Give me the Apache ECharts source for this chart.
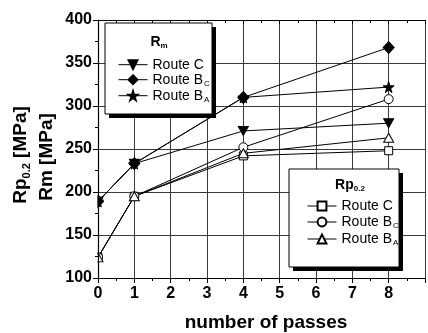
<!DOCTYPE html>
<html><head><meta charset="utf-8">
<script src="https://cdn.jsdelivr.net/npm/echarts@6/dist/echarts.min.js"></script>
<style>html,body{margin:0;padding:0;background:#fff}#c{width:428px;height:333px}</style>
</head><body><div id="c"></div>
<script>
const passes = [0, 1, 4, 8];
const rmRouteC  = [189, 233, 271, 280];
const rmRouteBC = [189, 233, 310, 368];
const rmRouteBA = [189, 233, 310, 322];
const rpRouteC  = [124, 195, 242, 248];
const rpRouteBC = [124, 195, 252, 308];
const rpRouteBA = [124, 195, 245, 263];
const xTickLabels = ['0','1','2','3','4','5','6','7','8'];
const yMin = 100, yMax = 400, yStep = 50;

const FONT = '"Liberation Sans", Arial, sans-serif';
const STAR = 'path://M50,0 L61,35 L98,35 L68,57 L79,91 L50,70 L21,91 L32,57 L2,35 L39,35 Z';

function pts(vals){ return passes.map((x,i)=>[x, vals[i]]); }
function ser(name, vals, symbol, size, filled, rot){
  return {
    name, type:'line', data: pts(vals), symbol, symbolSize:size, symbolRotate: rot||0,
    zlevel:0, z:5, showSymbol:true, animation:false,
    lineStyle:{color:'#000', width:1},
    itemStyle:{color: filled ? '#000' : '#fff', borderColor:'#000', borderWidth:1}
  };
}
const labelMap = {
  'Rm C':'{t|Route C}', 'Rm BC':'{t|Route B}{s|C}', 'Rm BA':'{t|Route B}{s|A}',
  'Rp C':'{t|Route C}', 'Rp BC':'{t|Route B}{s|C}', 'Rp BA':'{t|Route B}{s|A}'
};
const legRich = {
  t:{fontSize:14, fontFamily:FONT, color:'#000', lineHeight:16},
  s:{fontSize:8, fontFamily:FONT, color:'#000', lineHeight:4, verticalAlign:'bottom', padding:[0,0,0,1]}
};
function legend(names, left, top, gap){
  return {
    data:names, orient:'vertical', left, top, itemWidth:29, itemHeight:11, itemGap:gap,
    selectedMode:false, zlevel:1, z:30, formatter:n=>labelMap[n],
    lineStyle:{width:1, color:'#000'},
    textStyle:{color:'#000', fontFamily:FONT, fontSize:14, rich:legRich}
  };
}
const chart = echarts.init(document.getElementById('c'));
const axisLine = {show:true, lineStyle:{color:'#000', width:1.2}};
chart.setOption({
  animation:false,
  grid:{left:98, top:20, right:-26.625, bottom:55},
  xAxis:[
    {type:'value', min:0, max:9, interval:1, position:'bottom', zlevel:1, z:10,
     axisLine, axisTick:{show:true, length:5, lineStyle:{color:'#000'}},
     minorTick:{show:true, splitNumber:2, length:3, lineStyle:{color:'#000'}},
     axisLabel:{margin:8, color:'#000', fontFamily:FONT, fontWeight:'bold', fontSize:16,
       formatter:v=> (Number.isInteger(v) && v<=8) ? xTickLabels[v] : ''},
     splitLine:{show:false}},
    {type:'value', min:0, max:9, interval:1, position:'top', zlevel:1, z:10,
     axisLine, axisTick:{show:true, inside:true, length:4, lineStyle:{color:'#000'}},
     minorTick:{show:true, splitNumber:2, length:3, lineStyle:{color:'#000'}},
     axisLabel:{show:false}, splitLine:{show:false}},
    {type:'value', min:0, max:9, interval:1, position:'bottom', zlevel:0, z:0,
     axisLine:{show:false}, axisTick:{show:false}, axisLabel:{show:false},
     splitLine:{show:true, lineStyle:{color:'#3a3a3a', width:1}}}
  ],
  yAxis:[
    {type:'value', min:yMin, max:yMax, interval:yStep, position:'left', zlevel:1, z:10,
     axisLine, axisTick:{show:true, length:5, lineStyle:{color:'#000'}},
     minorTick:{show:true, splitNumber:2, length:3, lineStyle:{color:'#000'}},
     axisLabel:{margin:6, color:'#000', fontFamily:FONT, fontWeight:'bold', fontSize:16},
     splitLine:{show:false}},
    {type:'value', min:yMin, max:yMax, interval:yStep, position:'left', zlevel:0, z:0,
     axisLine:{show:false}, axisTick:{show:false}, axisLabel:{show:false},
     splitLine:{show:true, lineStyle:{color:'#3a3a3a', width:1}}}
  ],
  legend:[
    legend(['Rm C','Rm BC','Rm BA'], 113, 52.7, 1),
    legend(['Rp C','Rp BC','Rp BA'], 302, 194, 2)
  ],
  series:[
    ser('Rm C', rmRouteC, 'triangle', [10,9], true, 180),
    ser('Rm BC', rmRouteBC, 'diamond', [11,12], true),
    ser('Rm BA', rmRouteBA, STAR, 11, true),
    ser('Rp C', rpRouteC, 'rect', 8, false),
    ser('Rp BC', rpRouteBC, 'circle', 9, false),
    ser('Rp BA', rpRouteBA, 'triangle', [10,9], false)
  ],
  graphic:[
    // hides the part of the x=0 markers left of the y axis (clipped in the original)
    {type:'rect', zlevel:1, z:1, shape:{x:86, y:180, width:11.4, height:88}, style:{fill:'#fff'}},
    {type:'rect', zlevel:1, z:20, shape:{x:109, y:27, width:107, height:91}, style:{fill:'#000'}},
    {type:'rect', zlevel:1, z:21, shape:{x:105, y:23, width:107, height:91}, style:{fill:'#fff', stroke:'#000', lineWidth:1}},
    {type:'text', zlevel:1, z:22, x:159, y:42, style:{text:'{b|R}{s|m}', align:'center', verticalAlign:'middle',
      rich:{b:{fontSize:14, fontWeight:'bold', fontFamily:FONT, fill:'#000', lineHeight:16},
            s:{fontSize:8, fontWeight:'bold', fontFamily:FONT, fill:'#000', lineHeight:3, verticalAlign:'bottom'}}}},
    {type:'rect', zlevel:1, z:20, shape:{x:293, y:173, width:110, height:98}, style:{fill:'#000'}},
    {type:'rect', zlevel:1, z:21, shape:{x:289, y:169, width:110, height:98}, style:{fill:'#fff', stroke:'#000', lineWidth:1}},
    {type:'text', zlevel:1, z:22, x:350, y:185, style:{text:'{b|Rp}{s|0.2}', align:'center', verticalAlign:'middle',
      rich:{b:{fontSize:14, fontWeight:'bold', fontFamily:FONT, fill:'#000', lineHeight:16},
            s:{fontSize:8, fontWeight:'bold', fontFamily:FONT, fill:'#000', lineHeight:3, verticalAlign:'bottom'}}}},
    {type:'text', zlevel:1, z:22, x:21, y:155, rotation:Math.PI/2, style:{text:'{b|Rp}{s|0.2}{b| [MPa]}', align:'center', verticalAlign:'middle',
      rich:{b:{fontSize:19, fontWeight:'bold', fontFamily:FONT, fill:'#000', lineHeight:22},
            s:{fontSize:11, fontWeight:'bold', fontFamily:FONT, fill:'#000', lineHeight:4, verticalAlign:'bottom'}}}},
    {type:'text', zlevel:1, z:22, x:47, y:157, rotation:Math.PI/2, style:{text:'Rm [MPa]', align:'center', verticalAlign:'middle',
      fontSize:19, fontWeight:'bold', fontFamily:FONT, fill:'#000'}},
    {type:'text', zlevel:1, z:22, x:266, y:323, style:{text:'number of passes', align:'center', verticalAlign:'middle',
      fontSize:19, fontWeight:'bold', fontFamily:FONT, fill:'#000'}}
  ]
});
</script></body></html>
